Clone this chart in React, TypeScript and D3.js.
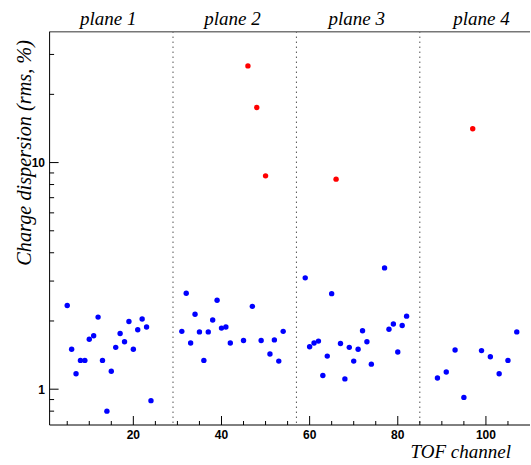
import React from "react";
import * as d3 from "d3";

const channels1 = [5, 6, 7, 8, 9, 10, 11, 12, 13, 14, 15, 16, 17, 18, 19, 20, 21, 22, 23, 24];
const values1 = [2.34, 1.5, 1.17, 1.34, 1.34, 1.66, 1.72, 2.08, 1.34, 0.8, 1.2, 1.53, 1.76, 1.62, 1.99, 1.5, 1.83, 2.04, 1.88, 0.89];

const channels2 = [31, 32, 33, 34, 35, 36, 37, 38, 39, 40, 41, 42, 45, 47, 49, 51, 52, 53, 54];
const values2 = [1.8, 2.65, 1.6, 2.14, 1.79, 1.34, 1.79, 2.02, 2.47, 1.86, 1.88, 1.6, 1.64, 2.32, 1.64, 1.43, 1.65, 1.33, 1.8];

const channels3 = [59, 60, 61, 62, 63, 64, 65, 67, 68, 69, 70, 71, 72, 73, 74, 77, 78, 79, 80, 81, 82];
const values3 = [3.1, 1.54, 1.6, 1.63, 1.15, 1.4, 2.64, 1.59, 1.11, 1.53, 1.33, 1.5, 1.81, 1.62, 1.29, 3.43, 1.84, 1.94, 1.46, 1.91, 2.1];

const channels4 = [89, 91, 93, 95, 99, 101, 103, 105, 107];
const values4 = [1.12, 1.19, 1.49, 0.92, 1.48, 1.39, 1.17, 1.34, 1.79];

const redChannels = [46, 48, 50, 66, 97];
const redValues = [26.7, 17.5, 8.74, 8.45, 14.1];

const planeLabels = ["plane 1", "plane 2", "plane 3", "plane 4"];
const planeCenters = [14.3, 42.5, 70.7, 99];
const dividers = [29, 57, 85];

const xMajorTicks = [20, 40, 60, 80, 100];
const yMajorTicks = [1, 10];
const yMinorTicks = [0.8, 0.9, 2, 3, 4, 5, 6, 7, 8, 9, 20, 30];

const W = 531;
const H = 465;
const L = 49.6;
const R = 530;
const T = 31.7;
const B = 425;

export default function App() {
  const x = d3.scaleLinear().domain([1, 110]).range([L, R]);
  const y = d3.scaleLog().domain([0.695, 37.8]).range([B, T]);

  const xMinor = d3.range(5, 110, 5).filter((v) => v % 20 !== 0);

  const blue: [number, number][] = [];
  [
    [channels1, values1],
    [channels2, values2],
    [channels3, values3],
    [channels4, values4],
  ].forEach(([cs, vs]) => cs.forEach((c, i) => blue.push([c, vs[i]])));
  const red: [number, number][] = redChannels.map((c, i) => [c, redValues[i]]);

  const serif = "'Liberation Serif', 'Times New Roman', serif";
  const sans = "'Liberation Sans', Arial, sans-serif";

  return (
    <svg
      width={W}
      height={H}
      style={{ position: "absolute", left: 0, top: 0, background: "#fff" }}
    >
      <rect x={0} y={0} width={W} height={H} fill="#fff" />
      {dividers.map((d) => (
        <line
          key={d}
          x1={x(d)}
          x2={x(d)}
          y1={T}
          y2={B}
          stroke="#000"
          strokeWidth={1}
          strokeDasharray="1,4"
        />
      ))}
      <line x1={L} x2={R} y1={T} y2={T} stroke="#777" strokeWidth={1.5} />
      <line x1={L} x2={L} y1={T} y2={B} stroke="#000" strokeWidth={1} />
      <line x1={L} x2={R} y1={B} y2={B} stroke="#000" strokeWidth={1} />
      {xMajorTicks.map((t) => (
        <g key={"xm" + t}>
          <line x1={x(t)} x2={x(t)} y1={B} y2={B - 9} stroke="#000" />
          <text
            x={x(t)}
            y={438.5}
            textAnchor="middle"
            fontFamily={sans}
            fontWeight="bold"
            fontSize={12}
          >
            {t}
          </text>
        </g>
      ))}
      {xMinor.map((t) => (
        <line key={"xn" + t} x1={x(t)} x2={x(t)} y1={B} y2={B - 4} stroke="#000" />
      ))}
      {yMajorTicks.map((t) => (
        <g key={"ym" + t}>
          <line x1={L} x2={L + 9} y1={y(t)} y2={y(t)} stroke="#000" />
          <text
            x={45}
            y={y(t) + 4.5}
            textAnchor="end"
            fontFamily={sans}
            fontWeight="bold"
            fontSize={12}
          >
            {t}
          </text>
        </g>
      ))}
      {yMinorTicks.map((t) => (
        <line key={"yn" + t} x1={L} x2={L + 4.5} y1={y(t)} y2={y(t)} stroke="#000" />
      ))}
      {blue.map(([c, v], i) => (
        <circle key={"b" + i} cx={x(c)} cy={y(v)} r={2.7} fill="#0000ff" />
      ))}
      {red.map(([c, v], i) => (
        <circle key={"r" + i} cx={x(c)} cy={y(v)} r={2.7} fill="#ff0000" />
      ))}
      {planeLabels.map((p, i) => (
        <text
          key={p}
          x={x(planeCenters[i])}
          y={25}
          textAnchor="middle"
          fontFamily={serif}
          fontStyle="italic"
          fontSize={19}
        >
          {p}
        </text>
      ))}
      <text
        x={511}
        y={458}
        textAnchor="end"
        fontFamily={serif}
        fontStyle="italic"
        fontSize={19}
      >
        TOF channel
      </text>
      <text
        transform={`translate(31, 40) rotate(-90)`}
        textAnchor="end"
        fontFamily={serif}
        fontStyle="italic"
        fontSize={20.3}
      >
        Charge dispersion (rms, %)
      </text>
    </svg>
  );
}
